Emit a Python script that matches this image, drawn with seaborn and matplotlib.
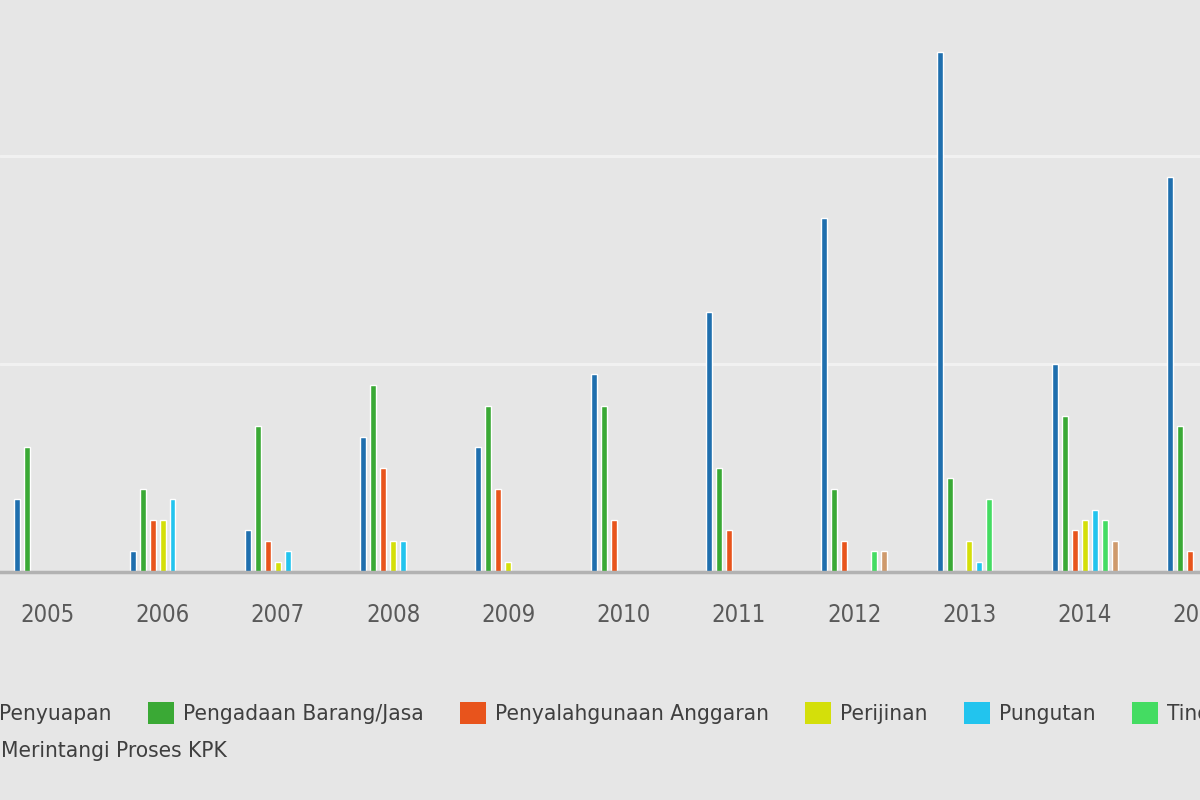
import matplotlib
matplotlib.use("Agg")
import matplotlib.pyplot as plt
import matplotlib.patches as mpatches
from matplotlib import font_manager as fm
import seaborn as sns
import pandas as pd
import numpy as np

# ---- data ----
years = ["2005", "2006", "2007", "2008", "2009", "2010", "2011", "2012", "2013", "2014", "2015"]
categories = ["Penyuapan", "Pengadaan Barang/Jasa", "Penyalahgunaan Anggaran",
              "Perijinan", "Pungutan", "Tindak Pidana Pencucian Uang", "Merintangi Proses KPK"]
penyuapan    = [7, 2, 4, 13, 12, 19, 25, 34, 50, 20, 38]
pengadaan    = [12, 8, 14, 18, 16, 16, 10, 8, 9, 15, 14]
penyalahgunaan = [0, 5, 3, 10, 8, 5, 4, 3, 0, 4, 2]
perijinan    = [0, 5, 1, 3, 1, 0, 0, 0, 3, 5, 0]
pungutan     = [0, 7, 2, 3, 0, 0, 0, 0, 1, 6, 0]
tppu         = [0, 0, 0, 0, 0, 0, 0, 2, 7, 5, 0]
merintangi   = [0, 0, 0, 0, 0, 0, 0, 2, 0, 3, 0]
colors = ["#1f6fae", "#3aa935", "#e8541c", "#d4df0a", "#22c4ee", "#44dc62", "#cf9a6c"]

series = [penyuapan, pengadaan, penyalahgunaan, perijinan, pungutan, tppu, merintangi]
df = pd.DataFrame({
    "Tahun": np.repeat([years], len(categories), axis=0).ravel(),
    "Jenis": np.repeat(categories, len(years)),
    "Jumlah": np.concatenate(series),
})

BG = "#e6e6e6"
sns.set_theme(style="white")

# pick a condensed face if one is installed
fonts = fm.fontManager.ttflist
names = {f.name for f in fonts}
stretch = "normal"
if "Liberation Sans Narrow" in names:
    family = "Liberation Sans Narrow"
    scale = 1.0
elif any(f.name == "DejaVu Sans" and f.stretch in ("condensed", "semi-condensed", 600, 700) for f in fonts) \
        or any("Condensed" in f.fname and "DejaVuSans" in f.fname for f in fonts):
    family = "DejaVu Sans"
    stretch = "condensed"
    scale = 0.90
else:
    family = "DejaVu Sans"
    scale = 0.82
plt.rcParams["font.family"] = [family, "DejaVu Sans"]
plt.rcParams["font.stretch"] = stretch

fig = plt.figure(figsize=(12, 8), dpi=100, facecolor=BG)
ax = fig.add_axes([0, 0.285, 1, 0.715])
ax.set_facecolor(BG)

sns.barplot(data=df, x="Tahun", y="Jumlah", hue="Jenis", hue_order=categories,
            order=years, palette=colors, width=0.605, gap=0.4, saturation=1,
            errorbar=None, legend=False, ax=ax, zorder=3)

ax.set_xticks(np.arange(len(years)) + 0.5, minor=True)
ax.tick_params(axis="x", which="minor", length=40, width=1, color="#eeeeee", direction="out")
ax.set_ylim(0, 55)
ax.set_xlim(-0.41, 10.0)
ax.set_yticks([20, 40])
ax.set_yticklabels([])
ax.tick_params(axis="y", length=0)
ax.yaxis.grid(True, color="#f1f1f1", linewidth=2.2, zorder=0)
ax.set_axisbelow(True)
for s in ["top", "left", "right"]:
    ax.spines[s].set_visible(False)
ax.spines["bottom"].set_color("#b2b2b2")
ax.spines["bottom"].set_linewidth(2.5)
ax.spines["bottom"].set_zorder(4)
ax.set_xlabel("")
ax.set_ylabel("")
ax.tick_params(axis="x", which="major", length=0, pad=22, labelsize=19 * scale,
               labelcolor="#5a5a5a")
for lab in ax.get_xticklabels():
    lab.set_clip_on(False)

# legend rows
fs = 18 * scale
handles = [mpatches.Patch(facecolor=c, edgecolor="none", label=l) for c, l in zip(colors, categories)]
leg_kw = dict(frameon=False, fontsize=fs, handlelength=1.05 * 18 / fs, handleheight=1.05 * 18 / fs,
              handletextpad=0.4, columnspacing=1.44 * 18 / fs, borderpad=0, borderaxespad=0,
              labelcolor="#3f3f3f")
leg1 = fig.legend(handles=handles[:6], loc="center left", ncol=6,
                  bbox_to_anchor=(-36 / 1200, 1 - 713 / 800), **leg_kw)
leg2 = fig.legend(handles=handles[6:], loc="center right", ncol=1,
                  bbox_to_anchor=(227 / 1200, 1 - 750 / 800), **leg_kw)

fig.savefig("out.png", dpi=100, facecolor=BG)
